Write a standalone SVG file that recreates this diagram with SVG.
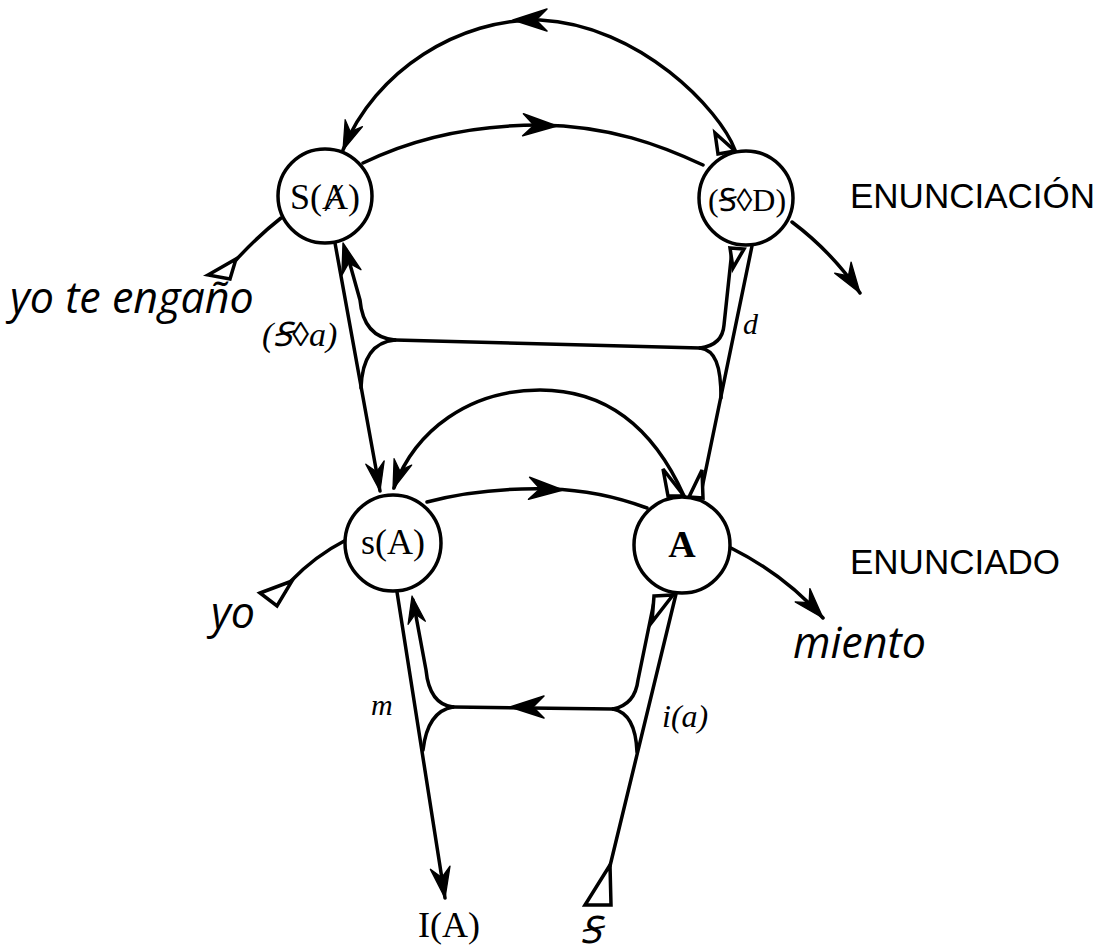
<svg xmlns="http://www.w3.org/2000/svg" width="1103" height="951" viewBox="0 0 1103 951">
<style>
.ln{fill:none;stroke:#000;stroke-width:3.5;stroke-linecap:round;stroke-linejoin:round}
.nd{fill:#fff;stroke:#000;stroke-width:3.5}
.tri{fill:#fff;stroke:#000;stroke-width:3.5;stroke-linejoin:miter}
.ah{fill:#000;stroke:#000;stroke-width:1.5;stroke-linejoin:round}
.nl{font-family:"Liberation Serif","DejaVu Serif",serif;fill:#000;text-anchor:middle}
.lb{font-family:"Liberation Serif","DejaVu Serif",serif;font-style:italic;fill:#000}
.sp{font-family:"Open Sans","Noto Sans",sans-serif;font-style:italic;font-size:43px;fill:#000}
.cap{font-family:"Liberation Sans",Arial,sans-serif;font-size:35px;fill:#000}
</style>
<defs>
<path id="ah" d="M0 0 L-34 -11 L-23 0 L-34 11 Z"/>
</defs>
<rect width="1103" height="951" fill="#fff"/>
<g id="connectors">
<path class="ln" d="M735 150 C720 110 640 25 540 20 C460 18 375 70 343 150"/>
<use href="#ah" class="ah" transform="translate(513 20) rotate(180)"/>
<use href="#ah" class="ah" transform="translate(343 150) rotate(112) scale(0.85)"/>
<polygon class="tri" points="715,133 718,154 735,151"/>
<path class="ln" d="M363 163 C420 135 480 125 540 125 C610 126 660 145 703 165"/>
<use href="#ah" class="ah" transform="translate(557 126) rotate(2)"/>
<path class="ln" d="M281 218 Q258 236 236 260"/>
<polygon class="tri" points="208,275 236,259 230,279"/>
<path class="ln" d="M792 222 Q832 252 860 293"/>
<use href="#ah" class="ah" transform="translate(860 293) rotate(56) scale(0.9)"/>
<path class="ln" d="M335 243 L380 491"/>
<use href="#ah" class="ah" transform="translate(380 491) rotate(80) scale(0.85)"/>
<path class="ln" d="M395 340 C372 338 362 322 360 300 L346 250"/>
<use href="#ah" class="ah" transform="translate(343 243) rotate(-106) scale(0.9)"/>
<path class="ln" d="M395 340 C372 342 362 360 361 388"/>
<path class="ln" d="M395 340 L700 348"/>
<path class="ln" d="M700 348 C716 346 723 338 724 325 L732 250"/>
<polygon class="tri" points="730,248 744,249 733,268"/>
<path class="ln" d="M700 348 C715 350 721 365 721 398"/>
<path class="ln" d="M700 498 L752 246"/>
<polygon class="tri" points="689,497 703,498 702,470"/>
<path class="ln" d="M684 496 C650 420 600 390 540 390 C470 390 415 430 394 488"/>
<use href="#ah" class="ah" transform="translate(393 489) rotate(110) scale(0.85)"/>
<polygon class="tri" points="663,469 668,496 684,496"/>
<path class="ln" d="M427 502 C465 492 510 488 550 489 C590 490 620 498 647 508"/>
<use href="#ah" class="ah" transform="translate(563 490) rotate(3)"/>
<path class="ln" d="M346 540 Q315 556 291 581"/>
<polygon class="tri" points="260,593 292,581 277,606"/>
<path class="ln" d="M731 548 Q785 575 823 618"/>
<use href="#ah" class="ah" transform="translate(823 618) rotate(48) scale(0.9)"/>
<path class="ln" d="M397 592 L445 898"/>
<use href="#ah" class="ah" transform="translate(445 898) rotate(81) scale(0.9)"/>
<path class="ln" d="M453 707 C435 705 428 690 426 670 L413 600"/>
<use href="#ah" class="ah" transform="translate(412 596) rotate(-100) scale(0.8)"/>
<path class="ln" d="M453 707 C435 710 426 725 423 750"/>
<path class="ln" d="M453 707 L613 709"/>
<use href="#ah" class="ah" transform="translate(510 707) rotate(180)"/>
<path class="ln" d="M613 709 C628 706 636 697 638 680 L655 597"/>
<polygon class="tri" points="654,596 673,595 652,622"/>
<path class="ln" d="M613 709 C628 712 636 726 637 752"/>
<path class="ln" d="M610 866 L676 594"/>
<polygon class="tri" points="610,865 585,905 611,905"/>
</g>
<g id="node-SA">
<circle class="nd" cx="325" cy="196" r="47"/>
<text class="nl" x="325" y="209" font-size="36">S(Ⱥ)</text>
</g>
<g id="node-SD">
<circle class="nd" cx="746" cy="198" r="47"/>
<text class="nl" x="747" y="211" font-size="32">(Ꞩ◊D)</text>
</g>
<g id="node-sA">
<circle class="nd" cx="393" cy="543" r="48"/>
<text class="nl" x="393" y="554" font-size="36">s(A)</text>
</g>
<g id="node-A">
<circle class="nd" cx="682" cy="545" r="48"/>
<text class="nl" x="682" y="557" font-size="38" font-weight="bold">A</text>
</g>
<g id="labels">
<text class="sp" x="10" y="313">yo te engaño</text>
<text class="cap" x="850" y="208">ENUNCIACIÓN</text>
<text class="cap" x="850" y="574">ENUNCIADO</text>
<text class="sp" x="793" y="658">miento</text>
<text class="sp" x="211" y="628">yo</text>
<text class="lb" x="262" y="346" font-size="34">(Ꞩ◊a)</text>
<text class="lb" x="743" y="334" font-size="30">d</text>
<text class="lb" x="371" y="715" font-size="30">m</text>
<text class="lb" x="662" y="727" font-size="32">i(a)</text>
<text class="nl" x="449" y="937" font-size="36">I(A)</text>
<text class="lb" x="580" y="943" font-size="38">Ꞩ</text>
</g>
</svg>
